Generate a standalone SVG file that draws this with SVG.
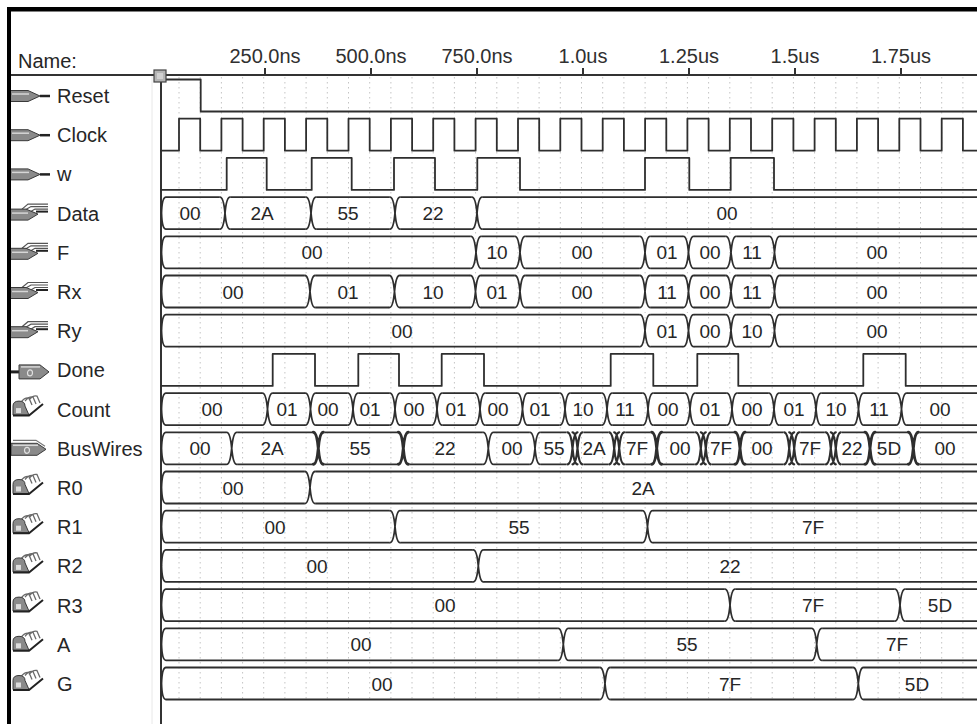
<svg xmlns="http://www.w3.org/2000/svg" xmlns:xlink="http://www.w3.org/1999/xlink" width="977" height="724" viewBox="0 0 977 724">
<style>
.w{fill:none;stroke:#2e2e2e;stroke-width:1.8;stroke-linecap:round;stroke-linejoin:round}
.wb{stroke-width:2.9}
.nm{font-family:"Liberation Sans",Arial,sans-serif;font-size:20px;fill:#262626}
.t{font-family:"Liberation Sans",Arial,sans-serif;font-size:20px;fill:#303030;text-anchor:middle}
.v{font-family:"Liberation Sans",Arial,sans-serif;font-size:19px;fill:#262626;text-anchor:middle}
.grid{fill:none;stroke:#c4c4c4;stroke-width:1;stroke-dasharray:1.5 3.5}
.ib{fill:#8a8a8a;stroke:#3a3a3a;stroke-width:1}
.hl{fill:none;stroke:#d6d6d6;stroke-width:1.5}
</style>
<defs>
<g id="x">
<path fill="#fff" d="M-5.5,-1.7h11v3.4h-11z M-5.5,30.3h11v3.4h-11z"/>
<path class="w" d="M-5,0Q-1.5,0 0,16Q1.5,32 5,32M5,0Q1.5,0 0,16Q-1.5,32 -5,32"/>
</g>
<g id="xb">
<path fill="#fff" d="M-6,-1.9h12v3.8h-12z M-6,30.1h12v3.8h-12z"/>
<path class="w wb" d="M-5,0Q-1.5,0 0,16Q1.5,32 5,32M5,0Q1.5,0 0,16Q-1.5,32 -5,32"/>
</g>
<g id="xd">
<path fill="#fff" d="M-8.5,-1.9h17v3.8h-17z M-8.5,30.1h17v3.8h-17z"/>
<path class="w" style="stroke-width:2.2" d="M-7.5,0Q-4,0 -2.5,16Q-1,32 2.5,32M2.5,0Q-1,0 -2.5,16Q-4,32 -7.5,32M-2.5,0Q1,0 2.5,16Q4,32 7.5,32M7.5,0Q4,0 2.5,16Q1,32 -2.5,32"/>
</g>
<g id="i-in">
<path class="ib" d="M10,-5H28L40,0.5L28,6H10Z"/>
<path class="hl" d="M12,-1.5H29"/>
<path d="M40,0.5H50" stroke="#222" stroke-width="2.5"/>
</g>
<g id="i-bus">
<path d="M22,-4L28,-9H48M25,-3L31,-6.5H48M30,-1L35,-4H48" fill="none" stroke="#555" stroke-width="1.2"/>
<path class="ib" d="M10,-4H26L38,1L28,7H10Z"/>
<path class="hl" d="M12,0H28"/>
<path d="M36,-1.5H48" stroke="#222" stroke-width="2"/>
</g>
<g id="i-out">
<path d="M8,2H19" stroke="#222" stroke-width="3"/>
<path class="ib" d="M19,-5H40L49,2L40,9H19Z"/>
<path class="hl" d="M21,-3H40"/>
<ellipse cx="30" cy="3" rx="2.5" ry="3" fill="none" stroke="#e0e0e0" stroke-width="1.2"/>
</g>
<g id="i-bd">
<path d="M13,-8H36L45,-2" fill="none" stroke="#777" stroke-width="1.2"/>
<path class="ib" d="M11,-5H37L46,1L37,7H11Z"/>
<path class="hl" d="M13,-3H38"/>
<ellipse cx="27" cy="2" rx="2.5" ry="3" fill="none" stroke="#e0e0e0" stroke-width="1.2"/>
</g>
<g id="i-bur">
<path d="M21,-7Q25,-12 29,-11L32,-4M25,-8Q29,-13 33,-12L36,-5M29,-9Q33,-14 37,-13L40,-6" fill="none" stroke="#6a6a6a" stroke-width="1.3"/>
<path class="ib" d="M13,6V-3Q13,-8 19,-8Q25,-8 25,-3L29,6Z"/>
<rect x="16" y="-1" width="5" height="5" fill="#dcdcdc"/>
<path d="M13,6.5H29L43,-5" fill="none" stroke="#222" stroke-width="2"/>
</g>
</defs>

<rect width="977" height="724" fill="#fff"/>

<g id="grid">
<path class="grid" d="M179,77V700M200.2,77V700M221.4,77V700M242.6,77V700M263.7,77V700M284.9,77V700M306.1,77V700M327.3,77V700M348.5,77V700M369.7,77V700M390.9,77V700M412,77V700M433.2,77V700M454.4,77V700M475.6,77V700M496.8,77V700M518,77V700M539.1,77V700M560.3,77V700M581.5,77V700M602.7,77V700M623.9,77V700M645.1,77V700M666.3,77V700M687.4,77V700M708.6,77V700M729.8,77V700M751,77V700M772.2,77V700M793.4,77V700M814.6,77V700M835.8,77V700M856.9,77V700M878.1,77V700M899.3,77V700M920.5,77V700M941.7,77V700M962.9,77V700"/>
</g>

<g id="header">
<text class="nm" x="18" y="68">Name:</text>
<text class="t" x="265" y="63">250.0ns</text>
<text class="t" x="371" y="63">500.0ns</text>
<text class="t" x="477" y="63">750.0ns</text>
<text class="t" x="583" y="63">1.0us</text>
<text class="t" x="689" y="63">1.25us</text>
<text class="t" x="795" y="63">1.5us</text>
<text class="t" x="901" y="63">1.75us</text>
<path d="M10,75H977M265,68V75M371,68V75M477,68V75M583,68V75M689,68V75M795,68V75M901,68V75" fill="none" stroke="#333" stroke-width="2"/>
<path d="M152,76V724" stroke="#e8e8e8" stroke-width="1"/>
<path d="M161,75V724" stroke="#333" stroke-width="2"/>
</g>

<g id="sig-Reset" transform="translate(0,79.5)">
<use href="#i-in" y="16"/>
<text class="nm" x="57" y="23.5">Reset</text>
<path class="w" d="M161,0H200.7V32H985"/>
</g>

<g id="sig-Clock" transform="translate(0,118.7)">
<use href="#i-in" y="16"/>
<text class="nm" x="57" y="23.5">Clock</text>
<path class="w" d="M161,32H179V0H200.2V32H221.4V0H242.6V32H263.7V0H284.9V32H306.1V0H327.3V32H348.5V0H369.7V32H390.9V0H412.1V32H433.2V0H454.4V32H475.6V0H496.8V32H518V0H539.2V32H560.3V0H581.5V32H602.7V0H623.9V32H645.1V0H666.3V32H687.4V0H708.6V32H729.8V0H751V32H772.2V0H793.4V32H814.6V0H835.8V32H856.9V0H878.1V32H899.3V0H920.5V32H941.7V0H962.9V32H985"/>
</g>

<g id="sig-w" transform="translate(0,157.9)">
<use href="#i-in" y="16"/>
<text class="nm" x="57" y="23.5">w</text>
<path class="w" d="M161,32H226.7V0H266.7V32H311.7V0H351.7V32H394V0H435V32H477.3V0H520V32H645V0H689.3V32H730.7V0H774V32H985"/>
</g>

<g id="sig-Data" transform="translate(0,197.1)">
<use href="#i-bus" y="16"/>
<text class="nm" x="57" y="23.5">Data</text>
<path class="w" d="M985,0H166Q162,0 161.5,16Q162,32 166,32H985"/>
<use href="#x" x="225"/><use href="#x" x="311"/><use href="#x" x="395"/><use href="#x" x="477"/>
<text class="v" x="190" y="23">00</text><text class="v" x="262" y="23">2A</text><text class="v" x="348" y="23">55</text><text class="v" x="433" y="23">22</text><text class="v" x="727" y="23">00</text>
</g>

<g id="sig-F" transform="translate(0,236.3)">
<use href="#i-bus" y="16"/>
<text class="nm" x="57" y="23.5">F</text>
<path class="w" d="M985,0H166Q162,0 161.5,16Q162,32 166,32H985"/>
<use href="#x" x="476"/><use href="#x" x="520"/><use href="#x" x="645"/><use href="#x" x="688.5"/><use href="#x" x="731"/><use href="#x" x="774.5"/>
<text class="v" x="312" y="23">00</text><text class="v" x="497" y="23">10</text><text class="v" x="582" y="23">00</text><text class="v" x="667" y="23">01</text><text class="v" x="710" y="23">00</text><text class="v" x="752" y="23">11</text><text class="v" x="877" y="23">00</text>
</g>

<g id="sig-Rx" transform="translate(0,275.5)">
<use href="#i-bus" y="16"/>
<text class="nm" x="57" y="23.5">Rx</text>
<path class="w" d="M985,0H166Q162,0 161.5,16Q162,32 166,32H985"/>
<use href="#x" x="310"/><use href="#x" x="394.5"/><use href="#x" x="475.5"/><use href="#x" x="520"/><use href="#x" x="645"/><use href="#x" x="688.5"/><use href="#x" x="731"/><use href="#x" x="774.5"/>
<text class="v" x="233" y="23">00</text><text class="v" x="348" y="23">01</text><text class="v" x="433" y="23">10</text><text class="v" x="497" y="23">01</text><text class="v" x="582" y="23">00</text><text class="v" x="667" y="23">11</text><text class="v" x="710" y="23">00</text><text class="v" x="752" y="23">11</text><text class="v" x="877" y="23">00</text>
</g>

<g id="sig-Ry" transform="translate(0,314.7)">
<use href="#i-bus" y="16"/>
<text class="nm" x="57" y="23.5">Ry</text>
<path class="w" d="M985,0H166Q162,0 161.5,16Q162,32 166,32H985"/>
<use href="#x" x="645"/><use href="#x" x="688.5"/><use href="#x" x="731"/><use href="#x" x="774.5"/>
<text class="v" x="402" y="23">00</text><text class="v" x="667" y="23">01</text><text class="v" x="710" y="23">00</text><text class="v" x="752" y="23">10</text><text class="v" x="877" y="23">00</text>
</g>

<g id="sig-Done" transform="translate(0,353.9)">
<use href="#i-out" y="16"/>
<text class="nm" x="57" y="23.5">Done</text>
<path class="w" d="M161,32H272.7V0H315V32H358.3V0H399V32H441.7V0H484V32H610.7V0H653.3V32H697.3V0H738.3V32H863.3V0H905.7V32H985"/>
</g>

<g id="sig-Count" transform="translate(0,393.1)">
<use href="#i-bur" y="16"/>
<text class="nm" x="57" y="23.5">Count</text>
<path class="w" d="M985,0H166Q162,0 161.5,16Q162,32 166,32H985"/>
<use href="#x" x="267.5"/><use href="#x" x="310.5"/><use href="#x" x="353"/><use href="#x" x="395"/><use href="#x" x="437"/><use href="#x" x="480"/><use href="#x" x="522.5"/><use href="#x" x="565"/><use href="#x" x="607"/><use href="#x" x="648"/><use href="#x" x="690"/><use href="#x" x="732"/><use href="#x" x="774"/><use href="#x" x="816"/><use href="#x" x="858.5"/><use href="#x" x="901.5"/>
<text class="v" x="212" y="23">00</text><text class="v" x="287" y="23">01</text><text class="v" x="328" y="23">00</text><text class="v" x="370" y="23">01</text><text class="v" x="414" y="23">00</text><text class="v" x="456" y="23">01</text><text class="v" x="498" y="23">00</text><text class="v" x="540" y="23">01</text><text class="v" x="583" y="23">10</text><text class="v" x="625" y="23">11</text><text class="v" x="668" y="23">00</text><text class="v" x="710" y="23">01</text><text class="v" x="752" y="23">00</text><text class="v" x="794" y="23">01</text><text class="v" x="836" y="23">10</text><text class="v" x="879" y="23">11</text><text class="v" x="940" y="23">00</text>
</g>

<g id="sig-BusWires" transform="translate(0,432.3)">
<use href="#i-bd" y="16"/>
<text class="nm" x="57" y="23.5">BusWires</text>
<path class="w" d="M985,0H166Q162,0 161.5,16Q162,32 166,32H985"/>
<use href="#x" x="231.7"/><use href="#xb" x="318.3"/><use href="#xb" x="403.3"/><use href="#x" x="488.3"/><use href="#x" x="535"/><use href="#xd" x="575"/><use href="#xd" x="616.7"/><use href="#xb" x="656.7"/><use href="#xd" x="703.3"/><use href="#xb" x="740"/><use href="#xd" x="791.7"/><use href="#xd" x="833.3"/><use href="#xb" x="870"/><use href="#xb" x="913.3"/>
<text class="v" x="200" y="23">00</text><text class="v" x="272" y="23">2A</text><text class="v" x="360" y="23">55</text><text class="v" x="445" y="23">22</text><text class="v" x="512" y="23">00</text><text class="v" x="554" y="23">55</text><text class="v" x="594" y="23">2A</text><text class="v" x="637" y="23">7F</text><text class="v" x="680" y="23">00</text><text class="v" x="721" y="23">7F</text><text class="v" x="762" y="23">00</text><text class="v" x="810" y="23">7F</text><text class="v" x="852" y="23">22</text><text class="v" x="889" y="23">5D</text><text class="v" x="945" y="23">00</text>
</g>

<g id="sig-R0" transform="translate(0,471.5)">
<use href="#i-bur" y="16"/>
<text class="nm" x="57" y="23.5">R0</text>
<path class="w" d="M985,0H166Q162,0 161.5,16Q162,32 166,32H985"/>
<use href="#x" x="310"/>
<text class="v" x="233" y="23">00</text><text class="v" x="643" y="23">2A</text>
</g>

<g id="sig-R1" transform="translate(0,510.7)">
<use href="#i-bur" y="16"/>
<text class="nm" x="57" y="23.5">R1</text>
<path class="w" d="M985,0H166Q162,0 161.5,16Q162,32 166,32H985"/>
<use href="#x" x="395"/><use href="#x" x="647.5"/>
<text class="v" x="275" y="23">00</text><text class="v" x="519" y="23">55</text><text class="v" x="813" y="23">7F</text>
</g>

<g id="sig-R2" transform="translate(0,549.9)">
<use href="#i-bur" y="16"/>
<text class="nm" x="57" y="23.5">R2</text>
<path class="w" d="M985,0H166Q162,0 161.5,16Q162,32 166,32H985"/>
<use href="#x" x="478.3"/>
<text class="v" x="317" y="23">00</text><text class="v" x="730" y="23">22</text>
</g>

<g id="sig-R3" transform="translate(0,589.1)">
<use href="#i-bur" y="16"/>
<text class="nm" x="57" y="23.5">R3</text>
<path class="w" d="M985,0H166Q162,0 161.5,16Q162,32 166,32H985"/>
<use href="#x" x="730"/><use href="#x" x="900"/>
<text class="v" x="445" y="23">00</text><text class="v" x="813" y="23">7F</text><text class="v" x="940" y="23">5D</text>
</g>

<g id="sig-A" transform="translate(0,628.3)">
<use href="#i-bur" y="16"/>
<text class="nm" x="57" y="23.5">A</text>
<path class="w" d="M985,0H166Q162,0 161.5,16Q162,32 166,32H985"/>
<use href="#x" x="563.3"/><use href="#x" x="816.7"/>
<text class="v" x="361" y="23">00</text><text class="v" x="687" y="23">55</text><text class="v" x="897" y="23">7F</text>
</g>

<g id="sig-G" transform="translate(0,667.5)">
<use href="#i-bur" y="16"/>
<text class="nm" x="57" y="23.5">G</text>
<path class="w" d="M985,0H166Q162,0 161.5,16Q162,32 166,32H985"/>
<use href="#x" x="605"/><use href="#x" x="858.3"/>
<text class="v" x="382" y="23">00</text><text class="v" x="730" y="23">7F</text><text class="v" x="917" y="23">5D</text>
</g>

<g id="frame">
<rect x="154" y="70" width="12" height="12" fill="#b4b4b4" stroke="#444" stroke-width="1.2"/>
<rect x="157" y="73" width="6" height="6" fill="#d0d0d0"/>
<rect x="7" y="7" width="970" height="4.5" fill="#000"/>
<rect x="7" y="7" width="4" height="717" fill="#000"/>
</g>
</svg>
